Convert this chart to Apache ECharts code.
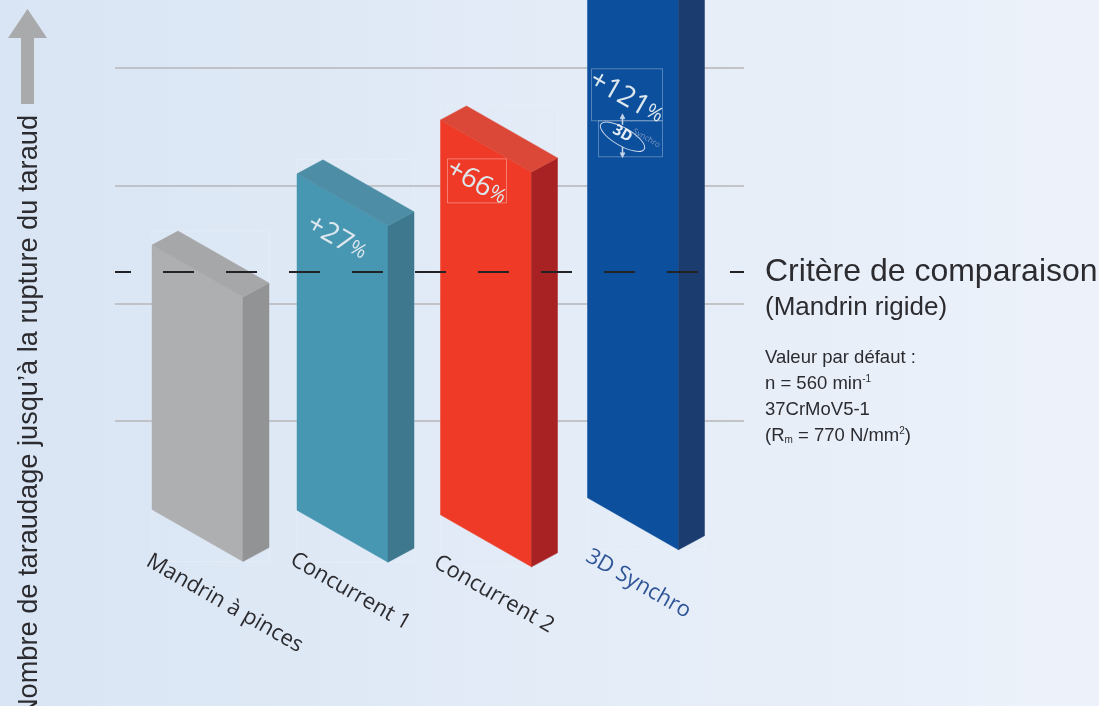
<!DOCTYPE html>
<html>
<head>
<meta charset="utf-8">
<style>
  html, body { margin: 0; padding: 0; }
  #chart { width: 1099px; height: 706px; }
</style>
<script src="https://cdn.jsdelivr.net/npm/echarts@6/dist/echarts.min.js"></script>
</head>
<body>
<div id="chart"></div>
<script>
  // values, 1 unit = one grid step
  const categories = ['Mandrin à pinces', 'Concurrent 1', 'Concurrent 2', '3D Synchro'];
  const baseValues = [0.25, 0.245, 0.205, 0.35];
  const topValues = [2.495, 3.1, 3.558, 5.1];
  const gains = ['', '+27', '+66', '+121'];
  const referenceValue = 2.267;
  const axisMin = 0;
  const axisMax = 4.576;

  // look of the fake 3d blocks, in pixels
  const frontW = 91, skew = 52, depthX = 26, depthY = 14;
  const angle = -Math.atan2(skew, frontW);
  const nudge = [0, 0, -1.5, 0.5];
  const faces = [
    { front: '#aeafb0', top: '#a6a7a8', side: '#929394' },
    { front: '#4796b2', top: '#4d8ea6', side: '#3e788e' },
    { front: '#ee3a26', top: '#dc4837', side: '#a92223' },
    { front: '#0c4f9c', top: '#0c4f9c', side: '#1a3c6e' }
  ];
  const nameColors = ['#2c2c30', '#2c2c30', '#2c2c30', '#2f5597'];
  // offsets from the front lower left corner
  const nameOffset = [[-4, 50], [-5, 48], [-5, 46], [0, 57]];
  const gainOffset = [null, [12, -288], [8, -348], [4, -420]];
  const gainColor = '#dde8ee';

  const poly = (points, fill) => ({
    type: 'polygon',
    shape: { points },
    style: { fill, stroke: fill, lineWidth: 0.5 }
  });

  const thinBox = (x, y, width, height, alpha) => ({
    type: 'rect',
    shape: { x, y, width, height },
    style: { fill: 'none', stroke: `rgba(255,255,255,${alpha})`, lineWidth: 1 }
  });

  const synchroIcon = (cx, cy) => {
    const color = '#c9d6e8';
    return [
      {
        type: 'ellipse',
        shape: { cx: 0, cy: 0, rx: 25, ry: 9 },
        x: cx, y: cy + 2, rotation: angle,
        style: { fill: 'none', stroke: color, lineWidth: 1 }
      },
      {
        type: 'line',
        shape: { x1: cx, y1: cy - 17, x2: cx, y2: cy - 10 },
        style: { stroke: color, lineWidth: 1.5 }
      },
      {
        type: 'line',
        shape: { x1: cx, y1: cy + 12, x2: cx, y2: cy + 20 },
        style: { stroke: color, lineWidth: 1.5 }
      },
      poly([[cx - 2.5, cy - 16], [cx, cy - 21], [cx + 2.5, cy - 16]], color),
      poly([[cx - 2.5, cy + 18], [cx, cy + 23], [cx + 2.5, cy + 18]], color),
      {
        type: 'text',
        x: cx, y: cy - 1, rotation: angle,
        style: { text: '3D', fill: '#e6edf6', font: 'bold 15px "Open Sans"', align: 'center', verticalAlign: 'middle' }
      },
      {
        type: 'text',
        x: cx + 11, y: cy - 4, rotation: angle,
        style: { text: 'Synchro', fill: '#7f9cc6', font: '8px "Open Sans"', align: 'left', verticalAlign: 'middle' }
      }
    ];
  };

  const renderBlock = (params, api) => {
    const i = api.value(0);
    const [cx, yb] = api.coord([i, api.value(1)]);
    const [, yt] = api.coord([i, api.value(2)]);
    const x = cx - (frontW + depthX) / 2 + nudge[i];
    const c = faces[i];
    const children = [
      thinBox(x, yt - depthY, frontW + depthX, yb - yt + skew + depthY, 0.18),
      poly([[x, yt], [x + frontW, yt + skew], [x + frontW, yb + skew], [x, yb]], c.front),
      poly([[x + frontW, yt + skew], [x + frontW + depthX, yt + skew - depthY], [x + frontW + depthX, yb + skew - depthY], [x + frontW, yb + skew]], c.side),
      poly([[x, yt], [x + depthX, yt - depthY], [x + frontW + depthX, yt + skew - depthY], [x + frontW, yt + skew]], c.top)
    ];

    // block name under the foot of the bar
    children.push({
      type: 'text',
      x: x + nameOffset[i][0],
      y: yb + nameOffset[i][1],
      rotation: angle,
      style: {
        text: categories[i],
        fill: nameColors[i],
        font: '22px "Open Sans"',
        align: 'left',
        verticalAlign: 'middle'
      }
    });

    if (gains[i]) {
      if (i === 2) {
        children.push(thinBox(x + 7, yb - 356, 59, 44, 0.35));
      }
      if (i === 3) {
        children.push(thinBox(x + 4, yb - 429, 71, 52, 0.3));
        children.push(thinBox(x + 11, yb - 377, 64, 36, 0.3));
        children.push(...synchroIcon(x + 35, yb - 363));
      }
      children.push({
        type: 'text',
        x: x + gainOffset[i][0],
        y: yb + gainOffset[i][1],
        rotation: angle,
        style: {
          text: `{n|${gains[i]}}{p|%}`,
          align: 'left',
          verticalAlign: 'middle',
          rich: {
            n: { fontFamily: 'Open Sans', fontSize: 28, fill: gainColor },
            p: { fontFamily: 'Open Sans', fontSize: 20, fill: gainColor }
          }
        }
      });
    }
    return { type: 'group', children };
  };

  const textColor = '#2c2c30';
  const sans = '"Liberation Sans", Arial, sans-serif';

  const chart = echarts.init(document.getElementById('chart'), null, { renderer: 'canvas' });
  chart.setOption({
    animation: false,
    backgroundColor: {
      type: 'linear', x: 0, y: 0, x2: 1, y2: 0,
      colorStops: [{ offset: 0, color: '#d9e5f4' }, { offset: 1, color: '#edf2fa' }]
    },
    grid: [
      { left: 115, width: 629, top: 0, bottom: 167 },
      { left: 138, width: 580, top: 0, bottom: 167 }
    ],
    xAxis: [
      { gridIndex: 0, type: 'value', min: 0, max: 1, show: false },
      { gridIndex: 1, type: 'category', data: categories, show: false }
    ],
    yAxis: [
      {
        gridIndex: 0,
        type: 'value',
        min: axisMin,
        max: axisMax,
        interval: 1,
        axisLine: { show: false },
        axisTick: { show: false },
        axisLabel: { show: false },
        splitLine: { show: true, showMinLine: false, showMaxLine: false, lineStyle: { color: '#b6b6b9', width: 1.5 } }
      },
      {
        gridIndex: 1,
        type: 'value',
        min: axisMin,
        max: axisMax,
        show: false,
        splitLine: { show: false }
      }
    ],
    series: [
      {
        type: 'custom',
        xAxisIndex: 1,
        yAxisIndex: 1,
        z: 3,
        silent: true,
        clip: false,
        data: categories.map((c, i) => [i, baseValues[i], topValues[i]]),
        renderItem: renderBlock
      },
      {
        // comparison line sits on top of the bars
        type: 'line',
        xAxisIndex: 0,
        yAxisIndex: 0,
        z: 5,
        data: [],
        silent: true,
        markLine: {
          silent: true,
          symbol: 'none',
          label: { show: false },
          lineStyle: { color: '#232326', width: 2, type: [31, 32], dashOffset: 15 },
          data: [{ yAxis: referenceValue }]
        }
      }
    ],
    graphic: {
      elements: [
        {
          type: 'polygon',
          shape: { points: [[27.5, 9], [47, 38], [34, 38], [34, 104], [21, 104], [21, 38], [8, 38]] },
          style: { fill: '#a9aaac' }
        },
        {
          type: 'text',
          x: 30, y: 115,
          rotation: Math.PI / 2,
          style: {
            text: 'Nombre de taraudage jusqu’à la rupture du taraud',
            fill: textColor,
            font: `27.2px ${sans}`,
            align: 'right',
            verticalAlign: 'middle'
          }
        },
        {
          type: 'text', x: 765, y: 272,
          style: { text: 'Critère de comparaison', fill: textColor, font: `32px ${sans}`, verticalAlign: 'middle' }
        },
        {
          type: 'text', x: 765, y: 307.5,
          style: { text: '(Mandrin rigide)', fill: textColor, font: `26px ${sans}`, verticalAlign: 'middle' }
        },
        {
          type: 'text', x: 765, y: 357.5,
          style: { text: 'Valeur par défaut :', fill: textColor, font: `18.5px ${sans}`, verticalAlign: 'middle' }
        },
        {
          type: 'text', x: 765, y: 383.5,
          style: {
            text: '{a|n = 560 min}{s|-1}',
            verticalAlign: 'middle',
            rich: {
              a: { fontFamily: 'Liberation Sans', fontSize: 18.5, fill: textColor },
              s: { fontFamily: 'Liberation Sans', fontSize: 10, fill: textColor, padding: [0, 0, 9, 0] }
            }
          }
        },
        {
          type: 'text', x: 765, y: 409.5,
          style: { text: '37CrMoV5-1', fill: textColor, font: `18.5px ${sans}`, verticalAlign: 'middle' }
        },
        {
          type: 'text', x: 765, y: 435.5,
          style: {
            text: '{a|(R}{d|m}{a| = 770 N/mm}{s|2}{a|)}',
            verticalAlign: 'middle',
            rich: {
              a: { fontFamily: 'Liberation Sans', fontSize: 18.5, fill: textColor },
              d: { fontFamily: 'Liberation Sans', fontSize: 10, fill: textColor, padding: [9, 0, 0, 0] },
              s: { fontFamily: 'Liberation Sans', fontSize: 10, fill: textColor, padding: [0, 0, 9, 0] }
            }
          }
        }
      ]
    }
  });
</script>
</body>
</html>
